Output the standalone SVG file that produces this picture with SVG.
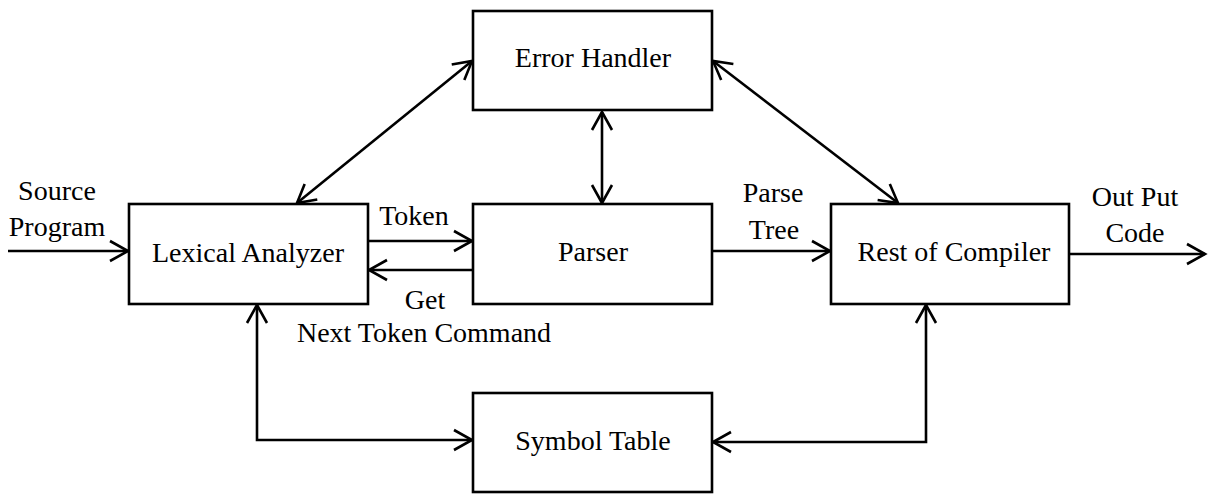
<svg xmlns="http://www.w3.org/2000/svg" width="1209" height="494" viewBox="0 0 1209 494">
<style>
.box{fill:#fff;stroke:#000;stroke-width:2.6}
.t{font-family:"Liberation Serif","Times New Roman",serif;font-size:28px;fill:#000;text-anchor:middle}
.c{fill:none;stroke:#000;stroke-width:2.6}
</style>
<defs>
<marker id="ah" viewBox="-22 -13 26 26" refX="0" refY="0" markerWidth="26" markerHeight="26" markerUnits="userSpaceOnUse" orient="auto-start-reverse">
<path d="M-18,-10 L0,0 L-18,10" fill="none" stroke="#000" stroke-width="2.6"/>
</marker>
</defs>
<rect width="1209" height="494" fill="#fff"/>
<g id="connectors">
<line class="c" x1="8" y1="251" x2="128" y2="251" marker-end="url(#ah)"/>
<line class="c" x1="369" y1="241" x2="472" y2="241" marker-end="url(#ah)"/>
<line class="c" x1="473" y1="270" x2="369" y2="270" marker-end="url(#ah)"/>
<line class="c" x1="713" y1="251" x2="830" y2="251" marker-end="url(#ah)"/>
<line class="c" x1="1070" y1="254" x2="1205" y2="254" marker-end="url(#ah)"/>
<line class="c" x1="297" y1="203" x2="472" y2="61" marker-start="url(#ah)" marker-end="url(#ah)"/>
<line class="c" x1="602" y1="112" x2="602" y2="203" marker-start="url(#ah)" marker-end="url(#ah)"/>
<line class="c" x1="713" y1="61" x2="898" y2="203" marker-start="url(#ah)" marker-end="url(#ah)"/>
<polyline class="c" points="257,305 257,440 472,440" marker-start="url(#ah)" marker-end="url(#ah)"/>
<polyline class="c" points="926,305 926,442 713,442" marker-start="url(#ah)" marker-end="url(#ah)"/>
</g>
<g id="lexical"><rect class="box" x="129" y="204" width="239" height="100"/><text class="t" x="248" y="262">Lexical Analyzer</text></g>
<g id="parser"><rect class="box" x="473" y="204" width="239" height="100"/><text class="t" x="593" y="261">Parser</text></g>
<g id="error"><rect class="box" x="473" y="11" width="239" height="99"/><text class="t" x="593" y="67">Error Handler</text></g>
<g id="rest"><rect class="box" x="831" y="204" width="238" height="100"/><text class="t" x="954" y="261">Rest of Compiler</text></g>
<g id="symbol"><rect class="box" x="473" y="393" width="239" height="99"/><text class="t" x="593" y="450">Symbol Table</text></g>
<g id="labels">
<text class="t" x="57" y="200">Source</text>
<text class="t" x="57" y="236">Program</text>
<text class="t" x="414" y="225">Token</text>
<text class="t" x="425" y="309">Get</text>
<text class="t" x="424" y="342">Next Token Command</text>
<text class="t" x="773" y="202">Parse</text>
<text class="t" x="774" y="239">Tree</text>
<text class="t" x="1135" y="206">Out Put</text>
<text class="t" x="1135" y="242">Code</text>
</g>
</svg>
